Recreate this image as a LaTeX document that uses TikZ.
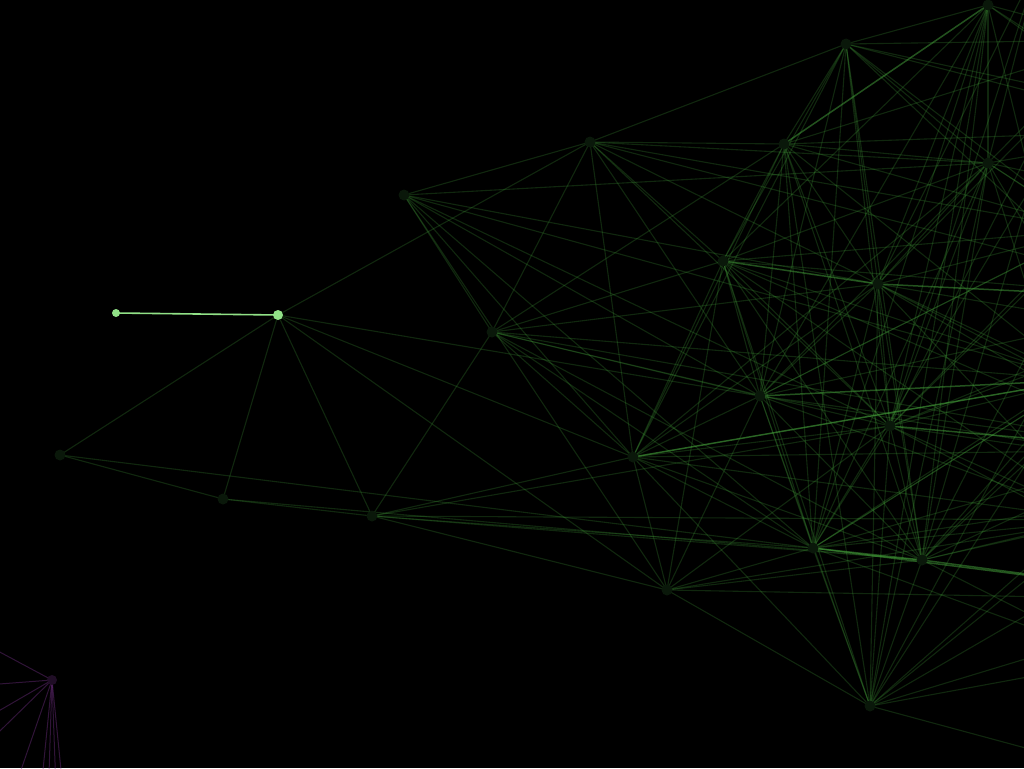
\documentclass[tikz,border=0pt]{standalone}
\usetikzlibrary{calc}
\definecolor{edgegreen}{RGB}{70,165,60}
\definecolor{dotdark}{RGB}{10,24,10}
\definecolor{brightgreen}{RGB}{145,225,135}
\definecolor{edgepurple}{RGB}{120,50,140}
\definecolor{dotpurple}{RGB}{32,14,38}
\tikzset{
  edge/.style={draw=edgegreen, draw opacity=0.24, line width=1.1pt},
  strongedge/.style={draw=edgegreen, draw opacity=0.5, line width=1.5pt},
  pedge/.style={draw=edgepurple, draw opacity=0.4, line width=1pt},
  brightedge/.style={draw=brightgreen, line width=1.6pt},
  darkdot/.style={circle, fill=dotdark, inner sep=0pt, minimum size=11pt},
  brightdot/.style={circle, fill=brightgreen, inner sep=0pt, minimum size=10pt},
  pdot/.style={circle, fill=dotpurple, inner sep=0pt, minimum size=10pt}
}
\begin{document}
\begin{tikzpicture}[x=1pt,y=-1pt]
\fill[black] (0,0) rectangle (1024,768);
\useasboundingbox (0,0) rectangle (1024,768);
\clip (0,0) rectangle (1024,768);
% visible positions
\coordinate (a) at (116,313);
\coordinate (b) at (278,315);
\coordinate (c) at (60,455);
\coordinate (d) at (223,499);
\coordinate (e) at (372,516);
\coordinate (f) at (404,195);
\coordinate (g) at (590,142);
\coordinate (h) at (492,332);
\coordinate (i) at (633,457);
\coordinate (j) at (667,590);
\coordinate (k) at (846,44);
\coordinate (l) at (784,144);
\coordinate (m) at (988,5);
\coordinate (n) at (723,261);
\coordinate (o) at (988,163);
\coordinate (p) at (878,284);
\coordinate (q) at (760,396);
\coordinate (r) at (890,426);
\coordinate (s) at (813,548);
\coordinate (t) at (922,560);
\coordinate (u) at (870,706);
\coordinate (v) at (52,680);
% off-frame positions
\coordinate (x1) at (1120,40);
\coordinate (x2) at (1180,130);
\coordinate (x3) at (1090,230);
\coordinate (x4) at (1200,300);
\coordinate (x5) at (1080,380);
\coordinate (x6) at (1160,450);
\coordinate (x7) at (1100,520);
\coordinate (x8) at (1220,600);
\coordinate (x9) at (1120,660);
\coordinate (x10) at (1300,230);
\coordinate (x11) at (1060,90);
\coordinate (x12) at (1260,480);
\coordinate (x13) at (1070,760);
\coordinate (x14) at (1040,-40);
\coordinate (x15) at (1150,330);
\coordinate (y1) at (-60,620);
\coordinate (y2) at (-80,690);
\coordinate (y3) at (-60,745);
\coordinate (y4) at (-40,770);
\coordinate (y5) at (-10,860);
\coordinate (y6) at (30,900);
\coordinate (y7) at (45,900);
\coordinate (y8) at (60,900);
\coordinate (y9) at (72,880);
% edges
\foreach \u/\w in {b/c,b/d,b/e,b/g,b/i,b/j,b/q,
  c/d,c/s,d/e,d/t,
  e/h,e/i,e/j,e/t,e/r,e/s,e/x7,
  f/g,f/o,f/h,f/i,f/j,f/q,f/s,f/r,f/x5,f/p,
  g/k,g/h,g/i,g/l,g/n,g/o,g/p,g/r,g/x3,g/x4,g/q,
  h/l,h/n,h/i,h/q,h/s,h/t,h/r,h/x5,h/x6,h/p,
  i/n,i/q,i/s,i/t,i/r,i/j,i/p,i/x6,i/x7,i/x5,i/o,i/l,i/k,i/u,
  j/u,j/s,j/t,j/n,j/q,j/x7,j/x8,j/r,
  k/l,k/m,k/n,k/o,k/p,k/q,k/r,k/x1,k/x2,k/x3,k/s,k/x11,k/t,k/x15,
  l/n,l/o,l/p,l/q,l/r,l/s,l/x1,l/x2,l/x3,l/t,l/u,l/x5,
  m/o,m/p,m/r,m/t,m/x1,m/x2,m/x10,m/n,m/q,m/s,m/u,m/x5,
  n/q,n/r,n/s,n/t,n/x3,n/x4,n/x5,n/u,n/o,n/x6,n/x7,
  o/p,o/r,o/x2,o/x3,o/x4,o/x10,o/q,o/s,o/t,o/x6,o/u,o/x7,
  p/q,p/r,p/t,p/s,p/x5,p/x6,p/x3,p/x12,p/u,p/x15,p/x7,
  q/s,q/t,q/u,q/x6,q/x7,q/x4,q/x3,q/x12,
  r/s,r/t,r/u,r/x5,r/x7,r/x8,r/x12,r/x3,r/x4,r/x15,
  s/u,s/x7,s/x9,s/x6,s/x5,s/x12,
  t/u,t/x6,t/x7,t/x9,t/x12,t/x5,t/x3,t/x15,
  u/x7,u/x8,u/x9,u/x6,u/x12,u/x13,u/x5,
  x11/o,x1/p,x2/r,x3/q,x10/s,x4/t,x5/s,x14/o,x14/p,x14/r,x11/r,x11/t,x2/u,x1/s}
  \draw[edge] (\u) -- (\w);
\foreach \u/\w in {s/t,n/p,l/m,q/x5,p/x4,t/x8,r/x6,i/x5,s/x8}
  \draw[strongedge] (\u) -- (\w);
\foreach \w in {y1,y2,y3,y4,y5,y6,y7,y8,y9}
  \draw[pedge] (v) -- (\w);
\draw[brightedge] (a) -- (b);
% dots
\foreach \z in {c,d,e,f,g,h,i,j,k,l,m,n,o,p,q,r,s,t,u}
  \node[darkdot] (dot\z) at (\z) {};
\node[brightdot, minimum size=8pt] (dota) at (a) {};
\node[brightdot] (dotb) at (b) {};
\node[pdot] (dotv) at (v) {};
\end{tikzpicture}
\end{document}
